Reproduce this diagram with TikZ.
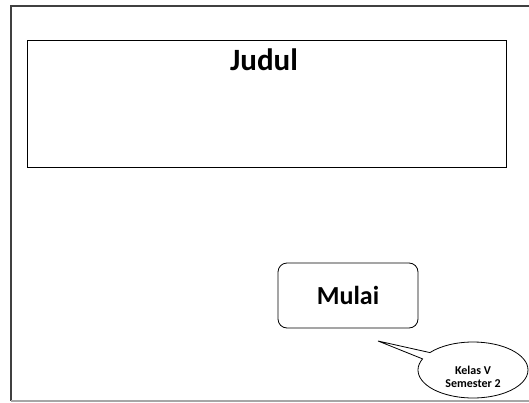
\documentclass[tikz,border=0pt]{standalone}
\usepackage{fontspec}
\setmainfont{Carlito}
\usetikzlibrary{shapes.callouts,shapes.geometric}
\begin{document}
\begin{tikzpicture}[x=1pt,y=-1pt,
  frame/.style={draw=black!75,line width=1.2pt},
  titlebox/.style={draw,line width=0.8pt,minimum width=479pt,minimum height=127pt,inner sep=0pt},
  startbox/.style={draw,line width=0.8pt,rounded corners=9pt,minimum width=140pt,minimum height=65pt,inner sep=0pt},
  bubble/.style={ellipse callout,draw,line width=0.8pt,minimum width=110pt,minimum height=56pt,inner sep=0pt},
  bubbletext/.style={align=center,inner sep=0pt,font=\bfseries\fontsize{12}{13}\selectfont}]
\useasboundingbox (0,0) rectangle (529,403);
\coordinate (tl) at (11,6);
\coordinate (tr) at (529,6);
\coordinate (bl) at (11,401);
\coordinate (br) at (529,401);
\draw[frame] (tr) -- (tl) -- (bl);
\draw[draw=black!35,line width=1.2pt] (bl) -- (br);
\node[titlebox] (title) at (266.5,103.5) {};
\node[font=\bfseries\fontsize{31}{34}\selectfont,inner sep=0pt] (judul) at (264,60) {Judul};
\node[startbox] (mulai) at (348,295.5) {\bfseries\fontsize{26}{30}\selectfont Mulai};
\coordinate (tip) at (378,341);
\node[bubble,callout absolute pointer=(tip)] (note) at (473,370) {};
\node[bubbletext] (notetext) at (473,377) {Kelas V\\Semester 2};
\end{tikzpicture}
\end{document}
